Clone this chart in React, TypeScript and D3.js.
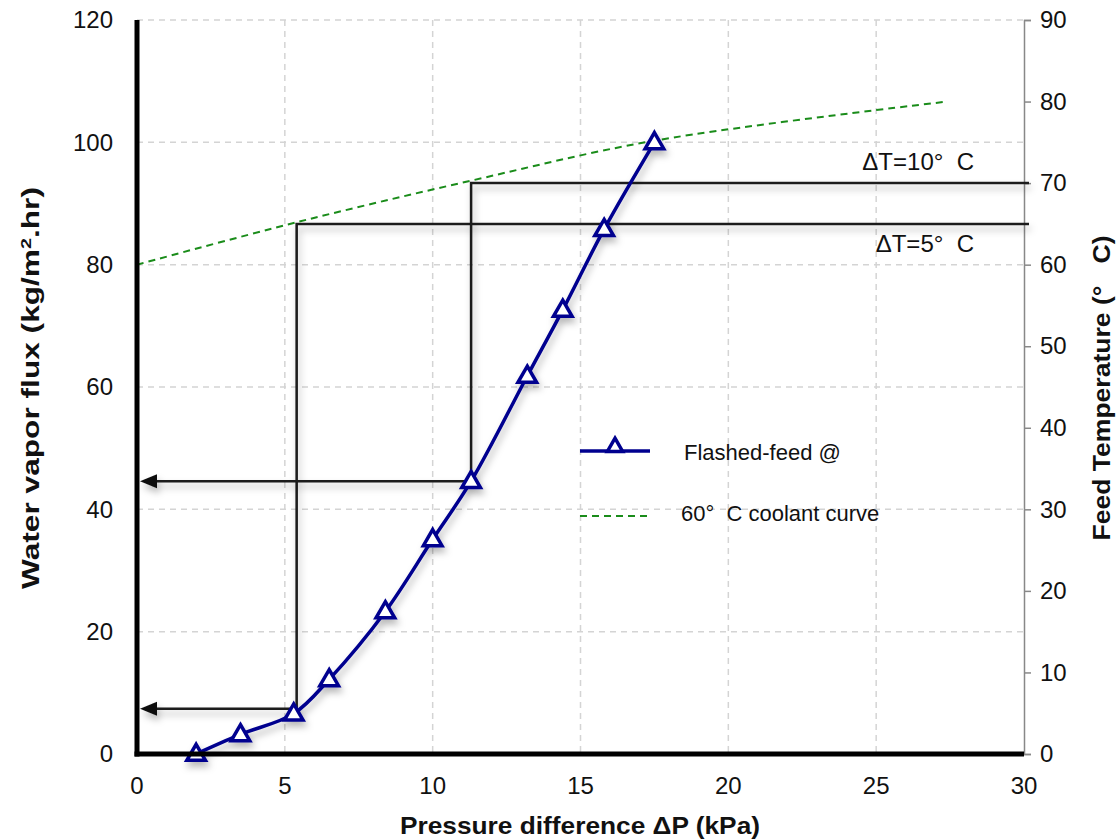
import React, { useEffect, useRef } from "react";
import * as d3 from "d3";

// flashed-feed curve (left axis)
const pressure = [2, 3.5, 5.3, 6.5, 8.4, 10, 11.3, 13.2, 14.4, 15.8, 17.5];
const flux = [0, 3.2, 6.6, 12.2, 23.3, 35.1, 44.6, 61.8, 72.6, 85.8, 100];

// 60°C coolant curve (right axis)
const coolantP = [0, 5.4, 11.3, 17.5, 27.4];
const coolantT = [60, 65.2, 70.3, 75.2, 80];

// guide lines: temperature level -> pressure -> flux read-off
const guideLabels = ["ΔT=5°  C", "ΔT=10°  C"];
const guideP = [5.4, 11.3];
const guideT = [65, 70];
const guideFlux = [7.4, 44.6];

const xTicks = [0, 5, 10, 15, 20, 25, 30];
const yTicks = [0, 20, 40, 60, 80, 100, 120];
const tTicks = [0, 10, 20, 30, 40, 50, 60, 70, 80, 90];

const W = 1116;
const H = 839;
const FONT = "Arial, 'Liberation Sans', sans-serif";

const App = () => {
  const ref = useRef<SVGSVGElement>(null);

  useEffect(() => {
    const svg = d3.select(ref.current);
    svg.selectAll("*").remove();

    const margin = { top: 20, right: 92, bottom: 85, left: 137 };
    const x = d3.scaleLinear().domain([0, 30]).range([margin.left, W - margin.right]);
    const y = d3.scaleLinear().domain([0, 120]).range([H - margin.bottom, margin.top]);
    const yT = d3.scaleLinear().domain([0, 90]).range([H - margin.bottom, margin.top]);

    const defs = svg.append("defs");
    defs
      .append("filter")
      .attr("id", "shadow")
      .attr("x", "-10%")
      .attr("y", "-50%")
      .attr("width", "120%")
      .attr("height", "300%")
      .append("feDropShadow")
      .attr("dx", 2)
      .attr("dy", 5)
      .attr("stdDeviation", 3.5)
      .attr("flood-color", "#000")
      .attr("flood-opacity", 0.28);

    // grid
    const grid = svg.append("g").attr("stroke", "#d4d4d4").attr("stroke-width", 1.5).attr("stroke-dasharray", "6,5");
    grid
      .selectAll("line.v")
      .data(xTicks.slice(1, -1))
      .enter()
      .append("line")
      .attr("x1", (d) => x(d))
      .attr("x2", (d) => x(d))
      .attr("y1", y(120))
      .attr("y2", y(0));
    grid
      .selectAll("line.h")
      .data(yTicks.slice(1))
      .enter()
      .append("line")
      .attr("x1", x(0))
      .attr("x2", x(30))
      .attr("y1", (d) => y(d))
      .attr("y2", (d) => y(d));

    // right axis
    const right = svg
      .append("g")
      .attr("transform", `translate(${x(30)},0)`)
      .call(d3.axisRight(yT).tickValues(tTicks).tickSize(7).tickPadding(9));
    right.select(".domain").attr("stroke", "#888").attr("stroke-width", 1.5);
    right.selectAll(".tick line").attr("stroke", "#888").attr("stroke-width", 1.5);
    right.selectAll("text").attr("font-family", FONT).attr("font-size", 24).attr("fill", "#111");

    // guide lines
    guideP.forEach((p, i) => {
      const g = svg.append("g").attr("filter", "url(#shadow)");
      const fy = y(guideFlux[i]);
      g.append("path")
        .attr("d", `M${x(30) + 5},${yT(guideT[i])} H${x(p)} V${fy} H${x(0) + 16}`)
        .attr("fill", "none")
        .attr("stroke", "#1a1a1a")
        .attr("stroke-width", 2.5);
      g.append("path")
        .attr("d", `M${x(0) + 3},${fy} L${x(0) + 20},${fy - 7} L${x(0) + 20},${fy + 7} Z`)
        .attr("fill", "#111");
    });
    svg
      .selectAll("text.guide")
      .data(guideLabels)
      .enter()
      .append("text")
      .attr("x", x(30) - 50)
      .attr("y", (d, i) => (i === 0 ? yT(guideT[i]) + 28 : yT(guideT[i]) - 13))
      .attr("text-anchor", "end")
      .attr("font-family", FONT)
      .attr("font-size", 24)
      .attr("fill", "#111")
      .style("white-space", "pre")
      .text((d) => d);

    // coolant curve
    const coolantLine = d3
      .line<number>()
      .x((d, i) => x(coolantP[i]))
      .y((d) => yT(d))
      .curve(d3.curveCatmullRom);
    svg
      .append("path")
      .attr("d", coolantLine(coolantT))
      .attr("fill", "none")
      .attr("stroke", "#1a8c1a")
      .attr("stroke-width", 2)
      .attr("stroke-dasharray", "7,5");

    // flashed feed curve
    const fluxLine = d3
      .line<number>()
      .x((d, i) => x(pressure[i]))
      .y((d) => y(d))
      .curve(d3.curveCatmullRom);
    const series = svg.append("g").attr("filter", "url(#shadow)");
    series
      .append("path")
      .attr("d", fluxLine(flux))
      .attr("fill", "none")
      .attr("stroke", "#00008f")
      .attr("stroke-width", 3.5);
    const tri = d3.symbol().type(d3.symbolTriangle).size(150);
    series
      .selectAll("path.pt")
      .data(flux)
      .enter()
      .append("path")
      .attr("d", tri())
      .attr("transform", (d, i) => `translate(${x(pressure[i])},${y(d) + 1})`)
      .attr("fill", "#fff")
      .attr("stroke", "#00008f")
      .attr("stroke-width", 3.5);

    // left and bottom axes
    svg
      .append("line")
      .attr("x1", x(0))
      .attr("x2", x(0))
      .attr("y1", y(120))
      .attr("y2", y(0) + 2.5)
      .attr("stroke", "#000")
      .attr("stroke-width", 5);
    svg
      .append("line")
      .attr("x1", x(0) - 2.5)
      .attr("x2", x(30))
      .attr("y1", y(0))
      .attr("y2", y(0))
      .attr("stroke", "#000")
      .attr("stroke-width", 5);

    svg
      .selectAll("text.yt")
      .data(yTicks)
      .enter()
      .append("text")
      .attr("x", x(0) - 24)
      .attr("y", (d) => y(d))
      .attr("dy", "0.35em")
      .attr("text-anchor", "end")
      .attr("font-family", FONT)
      .attr("font-size", 24)
      .attr("fill", "#111")
      .text((d) => d);
    svg
      .selectAll("text.xt")
      .data(xTicks)
      .enter()
      .append("text")
      .attr("x", (d) => x(d))
      .attr("y", y(0) + 40)
      .attr("text-anchor", "middle")
      .attr("font-family", FONT)
      .attr("font-size", 24)
      .attr("fill", "#111")
      .text((d) => d);

    // titles
    svg
      .append("text")
      .attr("x", 580)
      .attr("y", 834)
      .attr("text-anchor", "middle")
      .attr("font-family", FONT)
      .attr("font-weight", "bold")
      .attr("font-size", 24)
      .attr("textLength", 360)
      .attr("lengthAdjust", "spacingAndGlyphs")
      .attr("fill", "#111")
      .text("Pressure difference ΔP (kPa)");
    svg
      .append("text")
      .attr("transform", `translate(39,388) rotate(-90)`)
      .attr("text-anchor", "middle")
      .attr("font-family", FONT)
      .attr("font-weight", "bold")
      .attr("font-size", 24)
      .attr("textLength", 402)
      .attr("lengthAdjust", "spacingAndGlyphs")
      .attr("fill", "#111")
      .text("Water vapor flux (kg/m")
      .call((t) => t.append("tspan").attr("dy", -8).attr("font-size", 15).text("2"))
      .call((t) => t.append("tspan").attr("dy", 8).text(".hr)"));
    svg
      .append("text")
      .attr("transform", `translate(1110,388) rotate(-90)`)
      .attr("text-anchor", "middle")
      .attr("font-family", FONT)
      .attr("font-weight", "bold")
      .attr("font-size", 24)
      .attr("textLength", 305)
      .attr("lengthAdjust", "spacingAndGlyphs")
      .attr("fill", "#111")
      .style("white-space", "pre")
      .text("Feed Temperature (°   C)");

    // legend
    const lg = svg.append("g").attr("transform", "translate(580,451)");
    lg.append("line").attr("x1", 0).attr("x2", 70).attr("stroke", "#00008f").attr("stroke-width", 3.5);
    lg.append("path")
      .attr("d", d3.symbol().type(d3.symbolTriangle).size(100)())
      .attr("transform", "translate(35,-4)")
      .attr("fill", "#fff")
      .attr("stroke", "#00008f")
      .attr("stroke-width", 3.5);
    lg.append("text")
      .attr("x", 104)
      .attr("y", 9)
      .attr("font-family", FONT)
      .attr("font-size", 22)
      .attr("fill", "#111")
      .text("Flashed-feed @");
    lg.append("line")
      .attr("x1", 0)
      .attr("x2", 70)
      .attr("y1", 65)
      .attr("y2", 65)
      .attr("stroke", "#1a8c1a")
      .attr("stroke-width", 2)
      .attr("stroke-dasharray", "7,5");
    lg.append("text")
      .attr("x", 101)
      .attr("y", 70)
      .attr("font-family", FONT)
      .attr("font-size", 22)
      .attr("fill", "#111")
      .style("white-space", "pre")
      .text("60°  C coolant curve");
  }, []);

  return (
    <svg
      ref={ref}
      width={W}
      height={H}
      style={{ position: "absolute", left: 0, top: 0, background: "#fff" }}
    ></svg>
  );
};

export default App;
